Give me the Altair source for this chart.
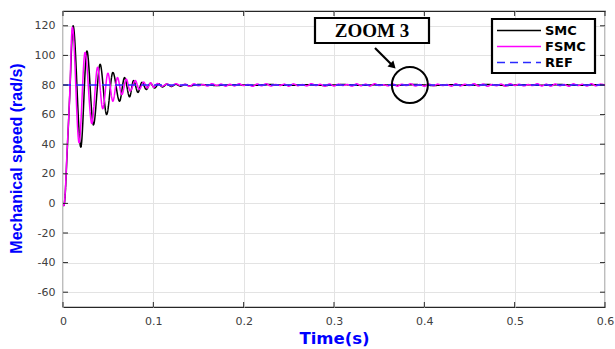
import altair as alt
import pandas as pd

# ---------------- data ----------------
series_names = ["SMC", "FSMC", "REF"]
series_colors = ["#000000", "#ff00ff", "#2a2aff"]
series_dash = [[1, 0], [1, 0], [8, 5]]

smc_t = [0, 0.001, 0.0022, 0.0044, 0.0078, 0.0100, 0.0112, 0.0197, 0.0265, 0.0337,
         0.0411, 0.0483, 0.0552, 0.0626, 0.0681, 0.0737, 0.0781, 0.0830, 0.0874, 0.0922,
         0.0967, 0.1015, 0.1060, 0.1100, 0.1150, 0.1200, 0.1250, 0.1300, 0.1350, 0.1400]
smc_v = [0, -1.5, 4, 32, 78, 112, 120, 38, 103, 53,
         94, 60, 88.5, 69, 85, 72, 83, 75, 81.8, 77,
         81.2, 78, 80.8, 78.6, 80.6, 79, 80.5, 79.2, 80.4, 79.4]
smc_tail_t = [round(0.15 + 0.02 * i, 3) for i in range(23)] + [0.6]
smc_tail_v = [80.3, 79.7, 80.2, 79.8, 80.3, 79.8, 80.2, 79.7, 80.3, 79.8, 80.2, 79.8,
              80.3, 79.7, 80.2, 79.8, 80.3, 79.7, 80.2, 79.8, 80.3, 79.8, 80.2, 80.0]

fsmc_t = [0, 0.001, 0.0022, 0.0044, 0.0078, 0.0096, 0.0104, 0.0178, 0.0244, 0.0319,
          0.0383, 0.0440, 0.0497, 0.0552, 0.0603, 0.0652, 0.0700, 0.0744, 0.0800, 0.0844,
          0.0893, 0.0933, 0.0970, 0.1004, 0.1044]
fsmc_v = [0, -1.5, 5, 34, 80, 114, 119, 41, 102, 54,
          92, 64, 88, 69, 85, 73.5, 84, 76, 83, 77,
          82, 78, 81.5, 78.5, 81]
fsmc_tail_t = [round(0.11 + 0.005 * i, 4) for i in range(99)]
fsmc_tail_v = [79.2, 80.7, 79.4, 80.9, 79.6, 80.5, 79.1, 80.8, 79.5, 80.4,
               79.3, 80.9, 79.7, 80.6, 79.2, 80.5, 79.4, 80.8, 79.6, 80.3,
               79.1, 80.7, 79.5, 80.9, 79.3, 80.4, 79.7, 80.6, 79.2, 80.8,
               79.5, 80.3, 79.4, 80.9, 79.6, 80.5, 79.1, 80.7, 79.3, 80.6,
               79.7, 80.4, 79.2, 80.8, 79.5, 80.6, 79.3, 80.9, 79.6, 80.2,
               79.4, 80.8, 79.2, 80.5, 79.6, 80.9, 79.3, 80.4, 79.1, 80.7,
               79.5, 80.6, 79.7, 80.3, 79.2, 80.8, 79.4, 80.5, 79.6, 80.9,
               79.3, 80.7, 79.1, 80.4, 79.5, 80.6, 79.2, 80.8, 79.7, 80.5,
               79.4, 80.3, 79.6, 80.9, 79.3, 80.6, 79.2, 80.7, 79.5, 80.4,
               79.1, 80.8, 79.6, 80.5, 79.3, 80.9, 79.4, 80.6, 80.0]

ref_t = [0, 0.6]
ref_v = [80, 80]

x_ticks = [0, 0.1, 0.2, 0.3, 0.4, 0.5, 0.6]
y_ticks = [-60, -40, -20, 0, 20, 40, 60, 80, 100, 120]

zoom_label = "ZOOM 3"
zoom_t = 0.384
zoom_v = 80

# ---------------- build table ----------------
rows = []
for t, v in zip(smc_t + smc_tail_t, smc_v + smc_tail_v):
    rows.append({"t": t, "v": v, "series": "SMC"})
for t, v in zip(fsmc_t + fsmc_tail_t, fsmc_v + fsmc_tail_v):
    rows.append({"t": t, "v": v, "series": "FSMC"})
for t, v in zip(ref_t, ref_v):
    rows.append({"t": t, "v": v, "series": "REF"})
df = pd.DataFrame(rows)

W, H = 542, 296
xs = alt.Scale(domain=[0, 0.6], nice=False, zero=False)
ys = alt.Scale(domain=[-70, 130], nice=False, zero=False)

x_axis = alt.Axis(values=x_ticks, title="Time(s)", labelOverlap=False, labelFlush=False,
                  labelExpr="datum.value == 0 ? '0' : format(datum.value, '.1f')")
y_axis = alt.Axis(values=y_ticks, title="Mechanical speed (rad/s)", labelOverlap=False,
                  labelFlush=False, labelExpr="'' + datum.value",
                  titleX=-47, titleY=147, titleBaseline="middle",
                  titleFont="Liberation Sans", titleFontSize=16)

X = lambda f: alt.X(f, scale=xs, axis=x_axis)
Y = lambda f: alt.Y(f, scale=ys, axis=y_axis)

lines = alt.Chart(df).mark_line(strokeWidth=1.5, interpolate="monotone", clip=True).encode(
    x=X("t:Q"),
    y=Y("v:Q"),
    color=alt.Color("series:N", scale=alt.Scale(domain=series_names, range=series_colors),
                    legend=None),
    strokeDash=alt.StrokeDash("series:N", scale=alt.Scale(domain=series_names, range=series_dash),
                              legend=None),
    detail="series:N",
)

one = pd.DataFrame({"a": [0]})
xt = pd.DataFrame({"t": x_ticks})
yt = pd.DataFrame({"v": y_ticks})
tick_col = "#262626"

xt_bottom = alt.Chart(xt).mark_rule(color=tick_col).encode(
    x=X("t:Q"), y=alt.value(H - 5), y2=alt.value(H))
xt_top = alt.Chart(xt).mark_rule(color=tick_col).encode(
    x=X("t:Q"), y=alt.value(0), y2=alt.value(5))
yt_left = alt.Chart(yt).mark_rule(color=tick_col).encode(
    y=Y("v:Q"), x=alt.value(0), x2=alt.value(5))
yt_right = alt.Chart(yt).mark_rule(color=tick_col).encode(
    y=Y("v:Q"), x=alt.value(W - 5), x2=alt.value(W))

# annotation
box = alt.Chart(one).mark_rect(fill="white", stroke="black", strokeWidth=2.2).encode(
    x=alt.value(252), x2=alt.value(366), y=alt.value(7), y2=alt.value(32))
box_text = alt.Chart(one).mark_text(font="Liberation Serif", fontWeight="bold", fontSize=19,
                                    color="black", baseline="middle", align="center").encode(
    x=alt.value(309), y=alt.value(20), text=alt.value(zoom_label))
arrow = alt.Chart(one).mark_rule(color="black", strokeWidth=2.2).encode(
    x=alt.value(312), y=alt.value(37), x2=alt.value(328), y2=alt.value(53))
arrow_head = alt.Chart(one).mark_point(shape="triangle-up", angle=135, filled=True,
                                       size=70, color="black", opacity=1).encode(
    x=alt.value(330), y=alt.value(55))
circle = alt.Chart(pd.DataFrame({"t": [zoom_t], "v": [zoom_v]})).mark_point(
    shape="circle", filled=False, size=1296, stroke="black", strokeWidth=2, opacity=1).encode(
    x=X("t:Q"), y=Y("v:Q"))

# legend (drawn by hand so rows stay compact)
leg_box = alt.Chart(one).mark_rect(fill="white", stroke="black", strokeWidth=2.2).encode(
    x=alt.value(429), x2=alt.value(532), y=alt.value(8), y2=alt.value(62))
leg_layers = [leg_box]
for i, (name, col, dash) in enumerate(zip(series_names, series_colors, series_dash)):
    yy = 19.5 + 16 * i
    leg_layers.append(alt.Chart(one).mark_rule(color=col, strokeWidth=1.5, strokeDash=dash).encode(
        x=alt.value(434), x2=alt.value(478), y=alt.value(yy), y2=alt.value(yy)))
    leg_layers.append(alt.Chart(one).mark_text(font="DejaVu Sans", fontWeight="bold", fontSize=13,
                                               color="black", align="left", baseline="middle").encode(
        x=alt.value(482), y=alt.value(yy), text=alt.value(name)))

chart = alt.layer(
    lines, xt_bottom, xt_top, yt_left, yt_right, box, box_text, arrow, arrow_head, circle,
    *leg_layers
).properties(
    width=W, height=H,
    autosize=alt.AutoSizeParams(type="none"),
    padding={"left": 63, "top": 11, "right": 10, "bottom": 42},
).configure_view(
    stroke="#262626", strokeWidth=1.2, fill="white"
).configure_axis(
    grid=True, gridColor="#e3e3e3", gridWidth=1,
    domain=False, ticks=False, labelOverlap=False,
    labelFont="DejaVu Sans", labelFontSize=11, labelColor="#404040", labelPadding=8,
    titleFont="DejaVu Sans", titleFontWeight="bold", titleColor="#0000ff",
).configure_axisX(
    titleFontSize=16.5, titlePadding=4
)

chart.save("out.html", embed_options={"renderer": "svg", "actions": False})
